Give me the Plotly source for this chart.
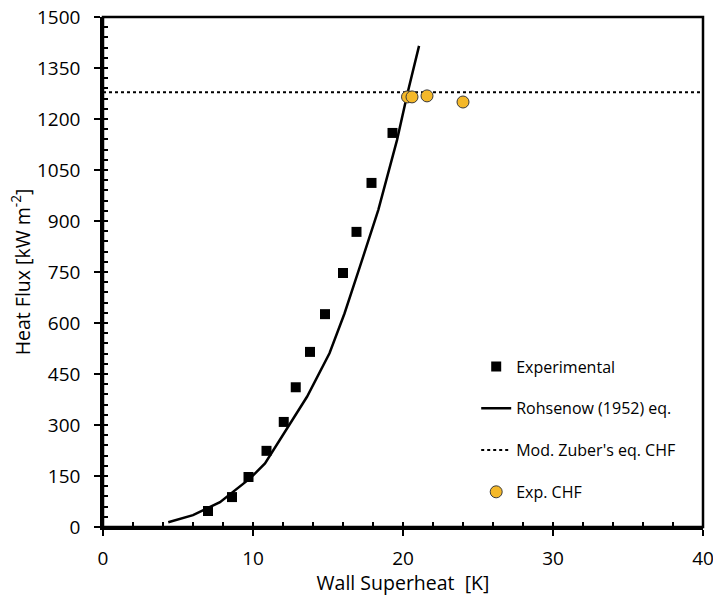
import plotly.graph_objects as go

# Experimental nucleate boiling data
exp_x = [7.0, 8.6, 9.7, 10.9, 12.05, 12.85, 13.8, 14.8, 16.0, 16.9, 17.9, 19.3]
exp_y = [47, 88, 147, 224, 309, 411, 515, 626, 747, 868, 1012, 1159]

# Rohsenow (1952) correlation curve
rohs_x = [4.35, 6.0, 7.8, 9.8, 10.8, 12.0, 13.6, 15.1, 16.1, 17.1, 18.35, 19.6, 20.3, 21.07]
rohs_y = [14, 35, 73, 143, 187, 270, 383, 511, 628, 762, 932, 1138, 1276, 1415]

# Modified Zuber CHF
zuber_x = [0, 40]
zuber_y = [1279, 1279]

# Experimental CHF
chf_x = [20.3, 20.6, 21.6, 24.0]
chf_y = [1265, 1265, 1268, 1250]

FONT = "Open Sans"

fig = go.Figure()
fig.add_trace(go.Scatter(x=zuber_x, y=zuber_y, mode="lines", name="Mod. Zuber's eq. CHF",
                         line=dict(color="black", width=2, dash="dot"),
                         legendrank=3, legendgroup="c"))
fig.add_trace(go.Scatter(x=rohs_x, y=rohs_y, mode="lines", name="Rohsenow (1952) eq.",
                         line=dict(color="black", width=2.5),
                         legendrank=2, legendgroup="b"))
fig.add_trace(go.Scatter(x=exp_x, y=exp_y, mode="markers", name="Experimental",
                         marker=dict(symbol="square", size=10, color="black"),
                         legendrank=1, legendgroup="a"))
fig.add_trace(go.Scatter(x=chf_x, y=chf_y, mode="markers", name="Exp. CHF",
                         marker=dict(symbol="circle", size=12, color="#F4B829",
                                     line=dict(color="#3a3a3a", width=1)),
                         legendrank=4, legendgroup="d"))
# empty trace so the overlaid tick-only axes are rendered
fig.add_trace(go.Scatter(x=[None], y=[None], xaxis="x2", yaxis="y2", showlegend=False,
                         hoverinfo="skip"))

tickfont = dict(family=FONT, size=19, color="black")

fig.update_layout(
    width=713, height=596,
    margin=dict(l=103, r=10, t=17, b=69),
    plot_bgcolor="white", paper_bgcolor="white",
    font=dict(family=FONT, color="black"),
    showlegend=True,
    legend=dict(x=0.622, y=0.348, xanchor="left", yanchor="top",
                font=dict(family=FONT, size=16, color="black"),
                tracegroupgap=18, bgcolor="rgba(0,0,0,0)"),
    xaxis=dict(range=[0, 40], dtick=10, tick0=0, ticks="outside", ticklen=6, tickwidth=1.5,
               tickcolor="black", showline=True, linewidth=2.5, linecolor="black",
               mirror=False, showgrid=False, zeroline=False, tickfont=tickfont,
               ticklabelstandoff=6, automargin=False, ticklabeloverflow="allow",
               title=dict(text="Wall Superheat  [K]", font=dict(family=FONT, size=19.5),
                          standoff=6)),
    yaxis=dict(range=[0, 1500], dtick=150, tick0=0, ticks="outside", ticklen=6, tickwidth=1.5,
               tickcolor="black", showline=True, linewidth=2.5, linecolor="black",
               mirror=False, showgrid=False, zeroline=False, tickfont=tickfont,
               ticklabelstandoff=10, automargin=False, ticklabeloverflow="allow",
               title=dict(text="Heat Flux [kW m<sup>-2</sup>]", font=dict(family=FONT, size=19.5),
                          standoff=2)),
    xaxis2=dict(overlaying="x", anchor="y", side="bottom", range=[0, 40], dtick=2, tick0=0,
                ticks="inside", ticklen=5, tickwidth=1.5, tickcolor="black", automargin=False,
                showticklabels=False, showgrid=False, zeroline=False, showline=False),
    yaxis2=dict(overlaying="y", anchor="x", side="left", range=[0, 1500], dtick=30, tick0=0,
                ticks="inside", ticklen=5, tickwidth=1.5, tickcolor="black", automargin=False,
                showticklabels=False, showgrid=False, zeroline=False, showline=False),
    shapes=[dict(type="rect", xref="paper", yref="paper", x0=0, x1=1, y0=0, y1=1,
                 line=dict(color="black", width=2.5), fillcolor="rgba(0,0,0,0)",
                 layer="above")],
)

fig.write_html("out.html", config={"displayModeBar": False},
               post_script="document.body.style.margin='0px';document.body.style.overflow='hidden';")
